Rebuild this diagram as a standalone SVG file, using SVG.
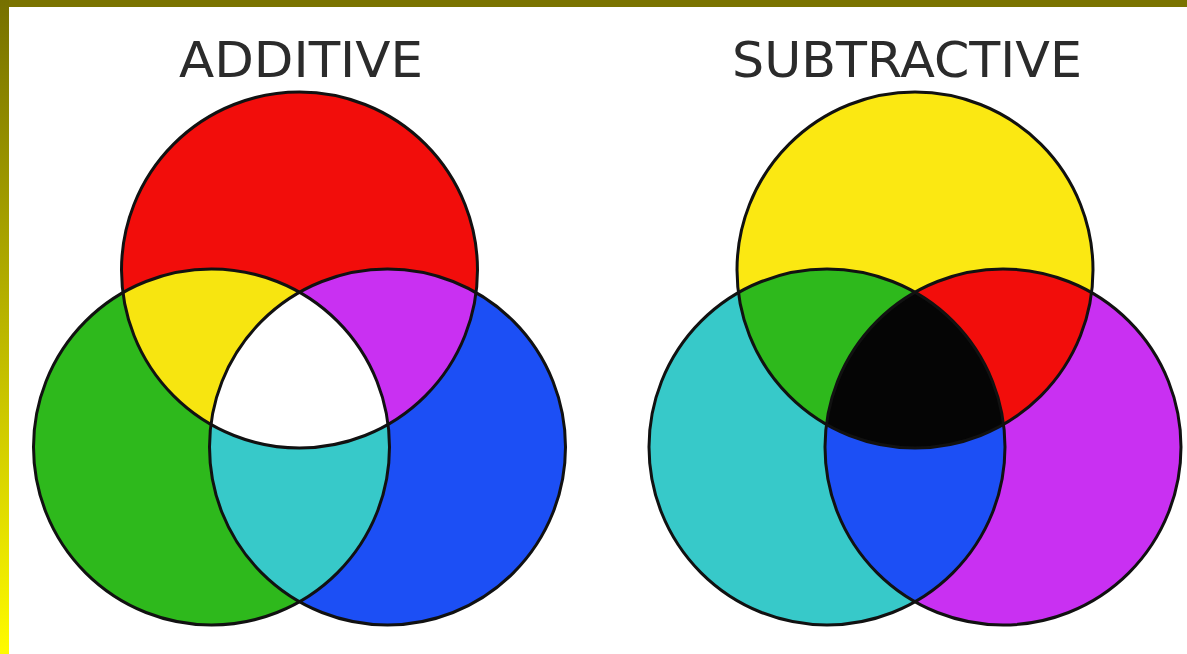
<svg xmlns="http://www.w3.org/2000/svg" width="1187" height="654" viewBox="0 0 1187 654">
  <style>
    .title { font-family: "DejaVu Sans", Verdana, sans-serif; font-size: 50px; fill: #2b2b2b; text-anchor: middle; }
    .outline { fill: none; stroke: #111; stroke-width: 3; }
  </style>
  <defs>
    <linearGradient id="leftBand" x1="0" y1="0" x2="0" y2="1">
      <stop offset="0" stop-color="#767000"/>
      <stop offset="1" stop-color="#fffb00"/>
    </linearGradient>
    <clipPath id="cR"><circle cx="299.5" cy="270" r="178"/></clipPath>
    <clipPath id="cG"><circle cx="211.5" cy="447" r="178"/></clipPath>
    <clipPath id="cY"><circle cx="915" cy="270" r="178"/></clipPath>
    <clipPath id="cC"><circle cx="827" cy="447" r="178"/></clipPath>
  </defs>

  <rect x="0" y="0" width="1187" height="654" fill="#ffffff"/>
  <rect x="0" y="0" width="1187" height="7" fill="#7a7300"/>
  <rect x="0" y="0" width="9" height="654" fill="url(#leftBand)"/>

  <text class="title" x="301" y="77" textLength="244" lengthAdjust="spacingAndGlyphs">ADDITIVE</text>
  <text class="title" x="907" y="77" textLength="350" lengthAdjust="spacingAndGlyphs">SUBTRACTIVE</text>

  <g id="additive">
    <g id="add-red"><circle cx="299.5" cy="270" r="178" fill="#f20d0b"/></g>
    <g id="add-green"><circle cx="211.5" cy="447" r="178" fill="#2eb91c"/></g>
    <g id="add-blue"><circle cx="387.5" cy="447" r="178" fill="#1c4ff5"/></g>
    <g id="add-yellow"><circle cx="211.5" cy="447" r="178" fill="#f7e510" clip-path="url(#cR)"/></g>
    <g id="add-magenta"><circle cx="387.5" cy="447" r="178" fill="#c930f2" clip-path="url(#cR)"/></g>
    <g id="add-cyan"><circle cx="387.5" cy="447" r="178" fill="#37c9c9" clip-path="url(#cG)"/></g>
    <g id="add-white" clip-path="url(#cG)"><circle cx="387.5" cy="447" r="178" fill="#ffffff" clip-path="url(#cR)"/></g>
    <g id="add-outlines">
      <circle class="outline" cx="299.5" cy="270" r="178"/>
      <circle class="outline" cx="211.5" cy="447" r="178"/>
      <circle class="outline" cx="387.5" cy="447" r="178"/>
    </g>
  </g>

  <g id="subtractive">
    <g id="sub-yellow"><circle cx="915" cy="270" r="178" fill="#fbe812"/></g>
    <g id="sub-cyan"><circle cx="827" cy="447" r="178" fill="#37c9c9"/></g>
    <g id="sub-magenta"><circle cx="1003" cy="447" r="178" fill="#c930f2"/></g>
    <g id="sub-green"><circle cx="827" cy="447" r="178" fill="#2eb91c" clip-path="url(#cY)"/></g>
    <g id="sub-red"><circle cx="1003" cy="447" r="178" fill="#f20d0b" clip-path="url(#cY)"/></g>
    <g id="sub-blue"><circle cx="1003" cy="447" r="178" fill="#1c4ff5" clip-path="url(#cC)"/></g>
    <g id="sub-black" clip-path="url(#cC)"><circle cx="1003" cy="447" r="178" fill="#050505" clip-path="url(#cY)"/></g>
    <g id="sub-outlines">
      <circle class="outline" cx="915" cy="270" r="178"/>
      <circle class="outline" cx="827" cy="447" r="178"/>
      <circle class="outline" cx="1003" cy="447" r="178"/>
    </g>
  </g>
</svg>
